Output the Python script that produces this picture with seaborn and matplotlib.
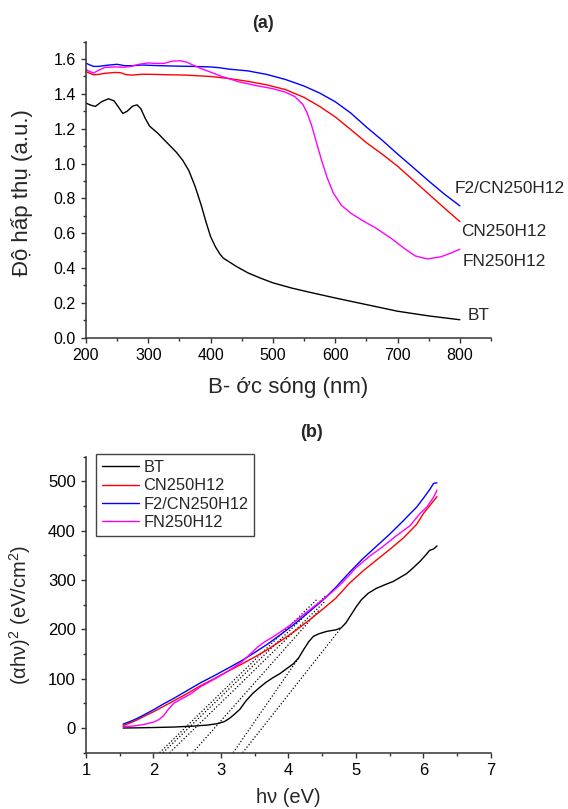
import numpy as np
import pandas as pd
import seaborn as sns
import matplotlib.pyplot as plt
from matplotlib.ticker import MultipleLocator, FormatStrFormatter

sns.set_theme(style="ticks")
plt.rcParams['font.family'] = ['Liberation Sans', 'DejaVu Sans']
plt.rcParams['mathtext.fontset'] = 'custom'
plt.rcParams['mathtext.rm'] = 'Liberation Sans'
plt.rcParams['mathtext.it'] = 'Liberation Sans:italic'

samples = ['BT', 'CN250H12', 'F2/CN250H12', 'FN250H12']
colors = ['black', 'red', 'blue', 'magenta']

# ---- (a) absorbance vs wavelength (nm) ----
bt_wl = [200, 208, 215, 225, 236, 245, 252, 259, 266, 275, 282, 288, 295, 302,
         315, 330, 345, 355, 365, 375, 385, 393, 400, 408, 415, 420, 430, 440,
         460, 480, 500, 530, 560, 600, 650, 700, 750, 800]
bt_abs = [1.347, 1.335, 1.328, 1.355, 1.372, 1.360, 1.325, 1.288, 1.300, 1.330,
          1.337, 1.315, 1.260, 1.215, 1.175, 1.120, 1.065, 1.020, 0.960, 0.870,
          0.760, 0.660, 0.580, 0.520, 0.480, 0.458, 0.435, 0.412, 0.372, 0.342,
          0.315, 0.285, 0.260, 0.228, 0.190, 0.152, 0.125, 0.103]

cn_wl = [200, 205, 212, 220, 230, 245, 255, 265, 275, 290, 310, 330, 360, 400,
         430, 460, 490, 520, 550, 575, 600, 625, 650, 675, 700, 725, 750, 775, 800]
cn_abs = [1.528, 1.520, 1.510, 1.512, 1.518, 1.523, 1.522, 1.510, 1.508, 1.513,
          1.512, 1.510, 1.508, 1.500, 1.488, 1.472, 1.452, 1.425, 1.380, 1.328,
          1.268, 1.195, 1.120, 1.055, 0.985, 0.905, 0.825, 0.745, 0.667]

f2_wl = [200, 205, 212, 220, 235, 250, 262, 275, 290, 310, 340, 370, 400, 415,
         430, 460, 490, 520, 550, 575, 600, 625, 650, 675, 700, 725, 750, 775, 800]
f2_abs = [1.577, 1.568, 1.558, 1.558, 1.565, 1.570, 1.562, 1.562, 1.566, 1.563,
          1.560, 1.558, 1.555, 1.550, 1.542, 1.532, 1.512, 1.483, 1.445, 1.405,
          1.355, 1.290, 1.210, 1.135, 1.055, 0.978, 0.900, 0.825, 0.757]

fn_wl = [200, 205, 212, 220, 230, 245, 260, 272, 285, 300, 312, 325, 338, 352,
         362, 372, 385, 400, 420, 445, 470, 500, 520, 535, 548, 555, 562, 570,
         578, 587, 597, 610, 625, 645, 665, 690, 710, 728, 748, 770, 785, 800]
fn_abs = [1.540, 1.530, 1.520, 1.535, 1.552, 1.555, 1.553, 1.558, 1.570, 1.578,
          1.575, 1.575, 1.588, 1.590, 1.582, 1.565, 1.545, 1.525, 1.498, 1.470,
          1.450, 1.430, 1.410, 1.385, 1.340, 1.290, 1.220, 1.120, 1.020, 0.920,
          0.830, 0.760, 0.715, 0.670, 0.630, 0.570, 0.515, 0.470, 0.452, 0.465,
          0.485, 0.508]

# end labels of panel (a): x, y in data units
lab_x = [813, 802, 792, 804]
lab_y = [0.130, 0.609, 0.859, 0.437]

# ---- (b) Tauc plot ----
bt_e = [1.55, 1.8, 2.0, 2.3, 2.6, 2.8, 2.95, 3.05, 3.13, 3.2, 3.28, 3.37, 3.47,
        3.57, 3.67, 3.77, 3.87, 3.97, 4.07, 4.15, 4.22, 4.30, 4.37, 4.45, 4.57,
        4.70, 4.78, 4.85, 4.92, 5.00, 5.08, 5.18, 5.30, 5.42, 5.55, 5.65, 5.75,
        5.85, 5.95, 6.03, 6.09, 6.15, 6.20]
bt_t = [0, 0.5, 1, 2, 4, 6, 9, 13, 20, 28, 38, 55, 70, 82, 93, 102, 110, 120,
        130, 142, 158, 175, 186, 191, 196, 199, 203, 213, 228, 245, 260, 273,
        283, 290, 297, 305, 313, 325, 338, 350, 360, 363, 369]

cn_e = [1.55, 1.65, 1.75, 1.85, 2.0, 2.15, 2.3, 2.5, 2.7, 2.9, 3.1, 3.3, 3.5,
        3.7, 3.9, 4.1, 4.3, 4.5, 4.7, 4.9, 5.1, 5.3, 5.5, 5.7, 5.9, 6.0, 6.1, 6.2]
cn_t = [5, 10, 16, 23, 33, 44, 55, 70, 86, 100, 115, 129, 144, 160, 178, 197,
        218, 240, 263, 293, 318, 340, 362, 385, 413, 435, 452, 469]

f2_e = [1.55, 1.65, 1.75, 1.85, 2.0, 2.15, 2.3, 2.5, 2.7, 2.9, 3.1, 3.3, 3.5,
        3.7, 3.9, 4.1, 4.3, 4.5, 4.7, 4.9, 5.1, 5.3, 5.5, 5.7, 5.9, 6.0, 6.1,
        6.15, 6.2]
f2_t = [8, 13, 19, 26, 37, 49, 60, 76, 92, 106, 121, 136, 153, 171, 191, 212,
        235, 258, 285, 315, 343, 368, 393, 420, 448, 466, 485, 496, 497]

fn_e = [1.55, 1.7, 1.85, 2.0, 2.08, 2.15, 2.22, 2.3, 2.4, 2.55, 2.7, 2.9, 3.1,
        3.3, 3.45, 3.55, 3.65, 3.75, 3.85, 4.0, 4.15, 4.3, 4.45, 4.6, 4.8, 5.0,
        5.2, 5.4, 5.6, 5.8, 5.95, 6.05, 6.15, 6.2]
fn_t = [3, 4, 7, 12, 17, 25, 38, 50, 58, 69, 84, 99, 115, 133, 152, 165, 175,
        183, 192, 206, 222, 238, 254, 270, 295, 325, 348, 368, 390, 410, 435,
        448, 468, 482]

# dotted tangent (extrapolation) lines: start at y = -50, end point
tan_x0 = [2.09, 2.14, 2.24, 2.58, 3.18, 3.32]
tan_x1 = [4.43, 4.55, 4.55, 4.46, 4.15, 4.78]
tan_y1 = [262, 268, 258, 240, 142, 203]


def long_df(xs, ys, xname, yname):
    parts = []
    for name, x, y in zip(samples, xs, ys):
        parts.append(pd.DataFrame({xname: x, yname: y, 'sample': name}))
    return pd.concat(parts, ignore_index=True)


df_a = long_df([bt_wl, cn_wl, f2_wl, fn_wl], [bt_abs, cn_abs, f2_abs, fn_abs],
               'wl', 'abs')
df_b = long_df([bt_e, cn_e, f2_e, fn_e], [bt_t, cn_t, f2_t, fn_t], 'e', 'tauc')

spine_c = '#333333'


def style_axes(ax, lsize):
    sns.despine(ax=ax)
    for s in ['left', 'bottom']:
        ax.spines[s].set_color(spine_c)
        ax.spines[s].set_linewidth(1.1)
    ax.tick_params(which='both', direction='out', color=spine_c, width=1.0,
                   labelsize=lsize, labelcolor='black')
    ax.tick_params(which='major', length=3.8)
    ax.tick_params(which='minor', length=2.2)


fig = plt.figure(figsize=(5.68, 8.09), dpi=100)
ax1 = fig.add_axes([0.1514, 0.5826, 0.713, 0.3659])
ax2 = fig.add_axes([0.1514, 0.0696, 0.713, 0.3659])

# panel (a)
sns.lineplot(data=df_a, x='wl', y='abs', hue='sample', hue_order=samples,
             palette=colors, estimator=None, sort=False, lw=1.0, legend=False,
             ax=ax1)
ax1.set_xlim(200, 850)
ax1.set_ylim(0, 1.7)
ax1.xaxis.set_major_locator(MultipleLocator(100))
ax1.xaxis.set_minor_locator(MultipleLocator(50))
ax1.yaxis.set_major_locator(MultipleLocator(0.2))
ax1.yaxis.set_minor_locator(MultipleLocator(0.1))
ax1.yaxis.set_major_formatter(FormatStrFormatter('%.1f'))
ax1.set_xticks(np.arange(200, 801, 100))
style_axes(ax1, 11.5)
ax1.set_xlabel('B- ớc sóng (nm)', fontsize=16, va='center')
ax1.set_ylabel('Độ hấp thụ (a.u.)', fontsize=16, va='center')
ax1.xaxis.set_label_coords(0.498, -0.17)
ax1.yaxis.set_label_coords(-0.158, 0.49)
for name, x, y in zip(samples, lab_x, lab_y):
    ax1.text(x, y, name, fontsize=12.4, ha='left', va='center')
ax1.text(0.437, 1.062, '(a)', transform=ax1.transAxes, fontsize=13,
         fontweight='bold', ha='center', va='center')

# panel (b)
for x0, x1, y1 in zip(tan_x0, tan_x1, tan_y1):
    ax2.plot([x0, x1], [-50, y1], color='black', lw=0.9,
             linestyle=(0, (1, 1.6)), zorder=1)
sns.lineplot(data=df_b, x='e', y='tauc', hue='sample', hue_order=samples,
             palette=colors, estimator=None, sort=False, lw=1.0, ax=ax2)
ax2.set_xlim(1, 7)
ax2.set_ylim(-50, 550)
ax2.xaxis.set_major_locator(MultipleLocator(1))
ax2.xaxis.set_minor_locator(MultipleLocator(0.5))
ax2.yaxis.set_major_locator(MultipleLocator(100))
ax2.yaxis.set_minor_locator(MultipleLocator(50))
ax2.set_yticks(np.arange(0, 501, 100))
style_axes(ax2, 12)
ax2.set_xlabel('hν (eV)', fontsize=14.5, va='center')
ax2.set_ylabel('(αhν)$^{2}$ (eV/cm$^{2}$)', fontsize=14.5, va='center')
ax2.xaxis.set_label_coords(0.5, -0.153)
ax2.yaxis.set_label_coords(-0.163, 0.465)
ax2.text(0.558, 1.08, '(b)', transform=ax2.transAxes, fontsize=13,
         fontweight='bold', ha='center', va='center')

handles, labels = ax2.get_legend_handles_labels()
leg = ax2.legend(handles, labels, loc='upper left',
                 bbox_to_anchor=(0.0247, 1.008), borderaxespad=0,
                 fontsize=11.8, frameon=True, fancybox=False, framealpha=1,
                 edgecolor='#444444', handlelength=2.25, handletextpad=0.3,
                 labelspacing=0.2, borderpad=0.35)
leg.get_frame().set_linewidth(1.0)

fig.savefig('out.png', dpi=100)
